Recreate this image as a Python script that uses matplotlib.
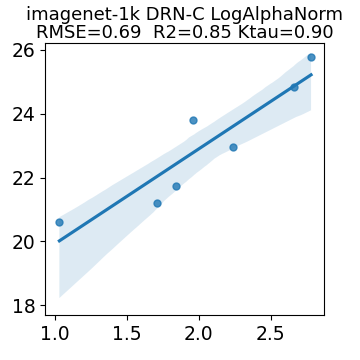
import matplotlib
matplotlib.use("Agg")
import matplotlib.pyplot as plt
import numpy as np
import seaborn as sns

# Metric (x) vs. test accuracy (y).
LOG_ALPHA_NORM: list[float] = [1.03, 1.71, 1.84, 1.96, 2.24, 2.66, 2.78]
ACCURACY: list[float] = [20.62, 21.21, 21.74, 23.79, 22.95, 24.84, 25.78]

TITLE_1: str = "imagenet-1k DRN-C LogAlphaNorm"
TITLE_2: str = "RMSE=0.69  R2=0.85 Ktau=0.90"

XTICKS: list[float] = [1.0, 1.5, 2.0, 2.5]
YTICKS: list[int] = [18, 20, 22, 24, 26]

figure = plt.figure(figsize=(3.6, 3.6), dpi=100)
axis = figure.add_axes([0.125, 0.125, 0.775, 0.755])

np.random.seed(0)
sns.regplot(x=np.array(LOG_ALPHA_NORM), y=np.array(ACCURACY), ax=axis,
            color="#1f77b4", scatter_kws={"s": 25}, seed=3)

axis.set_title(f"{TITLE_1}\n{TITLE_2}", fontsize=13, pad=4, linespacing=1.0)
axis.set_xticks(XTICKS)
axis.set_yticks(YTICKS)
axis.set_ylim(17.7, 26.2)
axis.set_xlim(0.93, 2.87)
axis.tick_params(labelsize=13.5)

figure.savefig("out.png", dpi=100)
